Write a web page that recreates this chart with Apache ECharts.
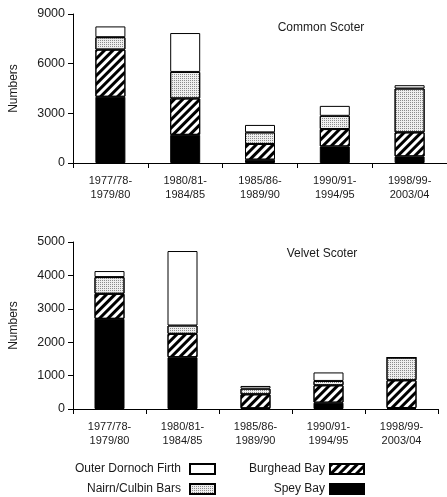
<!DOCTYPE html>
<html>
<head>
<meta charset="utf-8">
<script src="https://cdn.jsdelivr.net/npm/echarts@6/dist/echarts.min.js"></script>
<style>
html,body{margin:0;padding:0;background:#fff;}
#chart{width:447px;height:497px;}
</style>
</head>
<body>
<div id="chart"></div>
<script>
// Categories (winter periods)
const categories = ['1977/78-\n1979/80', '1980/81-\n1984/85', '1985/86-\n1989/90', '1990/91-\n1994/95', '1998/99-\n2003/04'];
const seriesNames = ['Spey Bay', 'Burghead Bay', 'Nairn/Culbin Bars', 'Outer Dornoch Firth'];

// Common Scoter (stacked amounts per site)
const commonSpey     = [4000, 1700, 200, 1000, 400];
const commonBurghead = [2850, 2200, 950, 1050, 1450];
const commonNairn    = [750, 1600, 700, 800, 2650];
const commonOuter    = [650, 2350, 450, 600, 200];

// Velvet Scoter (stacked amounts per site)
const velvetSpey     = [2700, 1550, 20, 190, 30];
const velvetBurghead = [750, 700, 420, 520, 830];
const velvetNairn    = [500, 250, 170, 130, 680];
const velvetOuter    = [180, 2230, 80, 255, 0];

const commonTicks = {min: 0, max: 9000, interval: 3000};
const velvetTicks = {min: 0, max: 5000, interval: 1000};

const FONT = '"Liberation Sans", Arial, sans-serif';

const styles = {
  'Spey Bay': {color: '#000', borderColor: '#000', borderWidth: 1},
  'Burghead Bay': {color: '#fff', borderColor: '#000', borderWidth: 1,
    decal: {symbol: 'rect', symbolSize: 1, color: '#000', dashArrayX: [1, 0], dashArrayY: [3, 3], rotation: -Math.PI / 4}},
  'Nairn/Culbin Bars': {color: '#eeeeee', borderColor: '#000', borderWidth: 1,
    decal: {symbol: 'rect', symbolSize: 1, color: '#8a8a8a', dashArrayX: [1, 1], dashArrayY: [1, 1]}},
  'Outer Dornoch Firth': {color: '#fff', borderColor: '#000', borderWidth: 1}
};

function mk(name, data, idx, stack) {
  return {
    name: name, type: 'bar', stack: stack, data: data,
    xAxisIndex: idx, yAxisIndex: idx, barWidth: 30,
    itemStyle: styles[name], emphasis: {disabled: true}, animation: false
  };
}

const series = [
  mk('Spey Bay', commonSpey, 0, 'c'),
  mk('Burghead Bay', commonBurghead, 0, 'c'),
  mk('Nairn/Culbin Bars', commonNairn, 0, 'c'),
  mk('Outer Dornoch Firth', commonOuter, 0, 'c'),
  mk('Spey Bay', velvetSpey, 1, 'v'),
  mk('Burghead Bay', velvetBurghead, 1, 'v'),
  mk('Nairn/Culbin Bars', velvetNairn, 1, 'v'),
  mk('Outer Dornoch Firth', velvetOuter, 1, 'v')
];

function xAx(gi) {
  return {
    type: 'category', gridIndex: gi, data: categories,
    axisLine: {lineStyle: {color: '#000', width: 1}},
    axisTick: {show: true, length: 5, lineStyle: {color: '#000'}},
    axisLabel: {margin: 11, lineHeight: 14, interval: 0, color: '#1a1a1a', fontFamily: FONT, fontSize: 11}
  };
}
function yAx(gi, t) {
  return {
    type: 'value', gridIndex: gi, min: t.min, max: t.max, interval: t.interval,
    name: 'Numbers', nameLocation: 'middle', nameGap: 53, nameRotate: 90,
    nameTextStyle: {color: '#1a1a1a', fontFamily: FONT, fontSize: 12},
    axisLine: {show: true, lineStyle: {color: '#000', width: 1}},
    axisTick: {show: true, length: 5, lineStyle: {color: '#000'}},
    axisLabel: {margin: 8, color: '#1a1a1a', fontFamily: FONT, fontSize: 12.5, formatter: function (v) { return String(v); }},
    splitLine: {show: false}
  };
}

function leg(name, right, top, w, gap) {
  return {
    data: [{name: name, icon: 'rect'}], orient: 'vertical', align: 'right', right: right, top: top,
    padding: 0, itemWidth: w, itemHeight: 10, selectedMode: false,
    textStyle: {color: '#1a1a1a', fontFamily: FONT, fontSize: 12, padding: [0, gap, 0, 0]}
  };
}

const option = {
  backgroundColor: '#fff',
  animation: false,
  grid: [
    {left: 72, top: 14, right: -6, bottom: 334},
    {left: 72, top: 242, right: 9, bottom: 88}
  ],
  xAxis: [xAx(0), xAx(1)],
  yAxis: [yAx(0, commonTicks), yAx(1, velvetTicks)],
  legend: [
    leg('Outer Dornoch Firth', 231, 463, 25, 4),
    leg('Nairn/Culbin Bars', 231, 483, 25, 4),
    leg('Burghead Bay', 82, 463, 34, 0),
    leg('Spey Bay', 82, 483, 34, 0)
  ],
  graphic: [
    {type: 'text', x: 321, y: 28, style: {text: 'Common Scoter', fill: '#1a1a1a', font: '12px ' + FONT, textAlign: 'center', textVerticalAlign: 'middle'}},
    {type: 'text', x: 322, y: 254, style: {text: 'Velvet Scoter', fill: '#1a1a1a', font: '12px ' + FONT, textAlign: 'center', textVerticalAlign: 'middle'}}
  ],
  series: series
};

const chart = echarts.init(document.getElementById('chart'), null, {renderer: 'canvas'});
chart.setOption(option);
</script>
</body>
</html>
